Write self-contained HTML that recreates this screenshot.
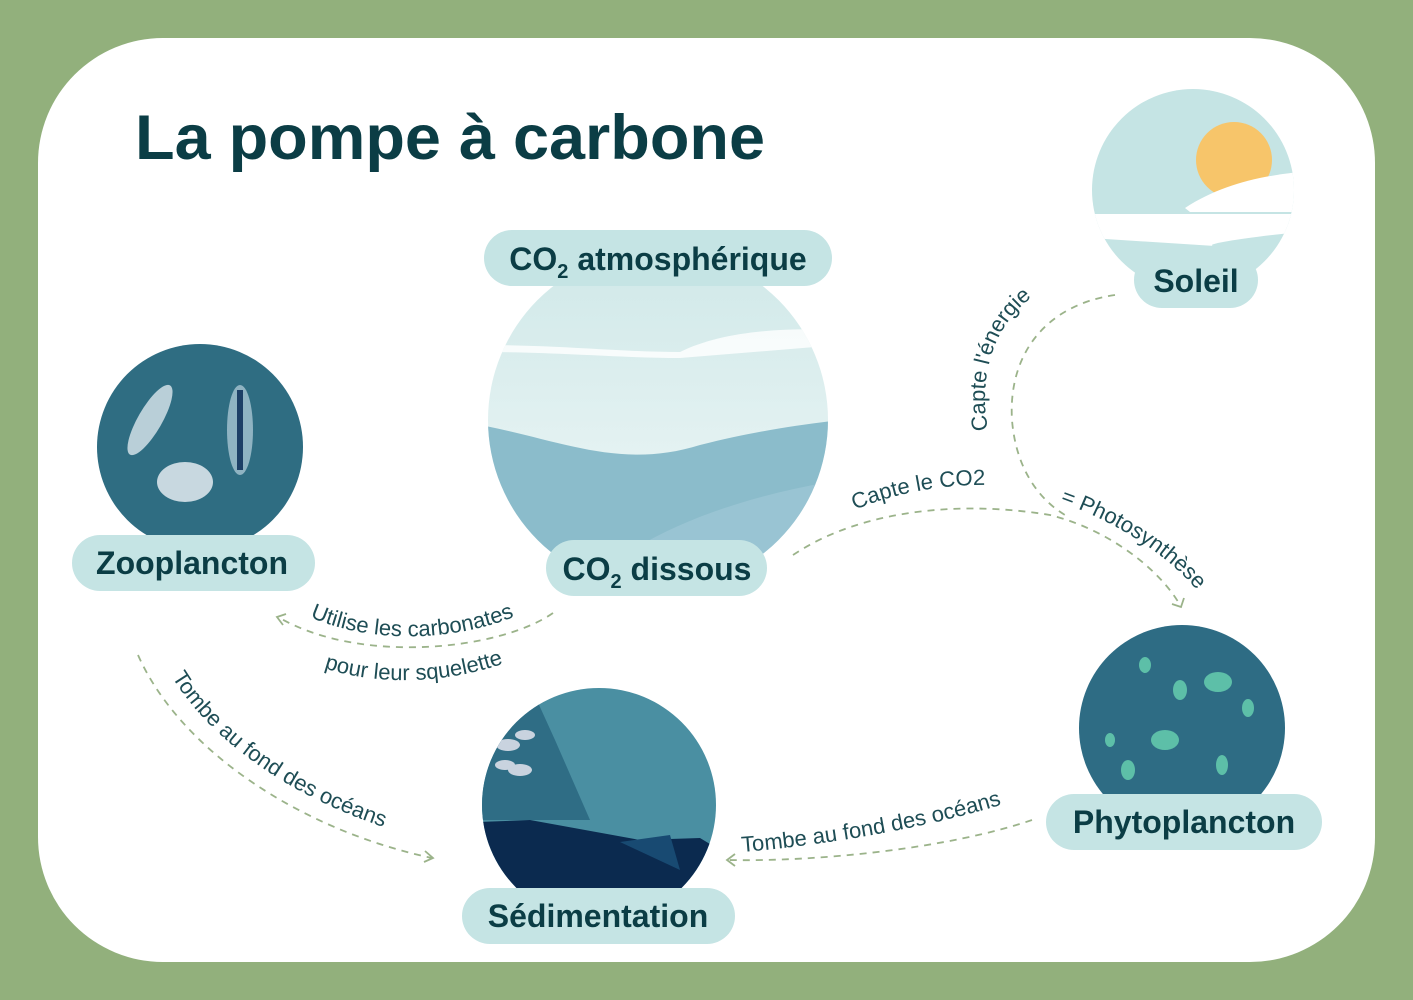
<!DOCTYPE html>
<html><head><meta charset="utf-8"><style>
html,body{margin:0;padding:0;background:#92b07c;}
svg{display:block;font-family:"Liberation Sans",sans-serif;}
.pill{fill:#c5e4e4}
.lbl{font-weight:bold;font-size:32px;fill:#0b3d45;text-anchor:middle}
.dash{fill:none;stroke:#9bb38a;stroke-width:1.8;stroke-dasharray:7 6}
.arr{fill:none;stroke:#9bb38a;stroke-width:1.8}
.t{font-size:22px;fill:#1e4d55}
</style></head><body>
<svg width="1413" height="1000" viewBox="0 0 1413 1000">
<defs>
<clipPath id="cc"><circle cx="658" cy="420" r="170"/></clipPath>
<clipPath id="cs"><circle cx="599" cy="805" r="117"/></clipPath>
<clipPath id="csun"><circle cx="1193" cy="190" r="101"/></clipPath>
<linearGradient id="sky" x1="0" y1="0" x2="0" y2="1"><stop offset="0" stop-color="#cfe8e8"/><stop offset="1" stop-color="#f3f9f9"/></linearGradient>
<path id="p1" d="M988,430 C975,360 1005,300 1065,280"/>
<path id="p2" d="M855,510 C900,490 960,482 1005,486"/>
<path id="p3" d="M1060,502 C1125,525 1185,565 1215,615"/>
<path id="p4" d="M310,617 C380,648 475,640 540,605"/>
<path id="p5" d="M324,668 C390,690 470,680 525,655"/>
<path id="p6" d="M172,677 C220,755 320,812 415,836"/>
<path id="p7" d="M742,852 C830,845 945,825 1025,797"/>
</defs>
<rect x="38" y="38" width="1337" height="924" rx="125" fill="#fff"/>
<text x="135" y="159" font-size="63" font-weight="bold" fill="#0b3d45" textLength="630" lengthAdjust="spacingAndGlyphs">La pompe à carbone</text>

<!-- Soleil -->
<g clip-path="url(#csun)">
<rect x="1090" y="88" width="210" height="210" fill="#c5e4e4"/>
<circle cx="1234" cy="160" r="38" fill="#f7c56a"/>
<path d="M1185,208 C1220,185 1260,176 1300,172 L1300,212 L1190,212Z" fill="#fff"/>
<path d="M1090,214 L1300,214 L1300,232 C1240,238 1200,245 1215,246 L1090,238Z" fill="#fff"/>
</g>
<rect x="1134" y="252" width="124" height="56" rx="28" class="pill"/>
<text x="1196" y="292" class="lbl">Soleil</text>

<!-- Central -->
<g clip-path="url(#cc)">
<rect x="480" y="245" width="360" height="360" fill="url(#sky)"/>
<path d="M480,345 C560,345 620,352 680,352 C720,332 780,327 840,330 L840,345 L680,358 C620,358 560,352 480,352Z" fill="#fff" opacity="0.8"/>
<path d="M480,425 C560,440 620,470 700,445 C760,430 800,425 840,420 L840,610 L480,610Z" fill="#8bbccb"/>
<path d="M560,610 C620,540 720,500 840,480 L840,610Z" fill="#9fc8d6" opacity="0.7"/>
</g>
<rect x="484" y="230" width="348" height="56" rx="28" class="pill"/>
<text x="658" y="270" class="lbl">CO<tspan font-size="20" dy="8">2</tspan><tspan dy="-8"> atmosphérique</tspan></text>
<rect x="546" y="540" width="221" height="56" rx="28" class="pill"/>
<text x="657" y="580" class="lbl">CO<tspan font-size="20" dy="8">2</tspan><tspan dy="-8"> dissous</tspan></text>

<!-- Zooplancton -->
<circle cx="200" cy="447" r="103" fill="#2f6d82"/>
<ellipse cx="150" cy="420" rx="12" ry="40" transform="rotate(30 150 420)" fill="#b9cfd8"/>
<ellipse cx="185" cy="482" rx="28" ry="20" fill="#c8d8e0"/>
<ellipse cx="240" cy="430" rx="13" ry="45" fill="#8fb3c2"/>
<path d="M240,390 L240,470" stroke="#1d3f66" stroke-width="6"/>
<rect x="72" y="535" width="243" height="56" rx="28" class="pill"/>
<text x="192" y="574" class="lbl">Zooplancton</text>

<!-- Phytoplancton -->
<circle cx="1182" cy="728" r="103" fill="#2e6c84"/>
<g fill="#5dbfa8">
<ellipse cx="1218" cy="682" rx="14" ry="10"/><ellipse cx="1180" cy="690" rx="7" ry="10"/>
<ellipse cx="1165" cy="740" rx="14" ry="10"/><ellipse cx="1222" cy="765" rx="6" ry="10"/>
<ellipse cx="1128" cy="770" rx="7" ry="10"/><ellipse cx="1145" cy="665" rx="6" ry="8"/>
<ellipse cx="1248" cy="708" rx="6" ry="9"/><ellipse cx="1110" cy="740" rx="5" ry="7"/>
</g>
<rect x="1046" y="794" width="276" height="56" rx="28" class="pill"/>
<text x="1184" y="833" class="lbl">Phytoplancton</text>

<!-- Sedimentation -->
<g clip-path="url(#cs)">
<rect x="480" y="685" width="240" height="240" fill="#4a8fa2"/>
<path d="M480,685 L530,685 L555,740 L590,820 L480,820Z" fill="#2f6d85"/>
<g fill="#c9d3df"><ellipse cx="508" cy="745" rx="12" ry="6"/><ellipse cx="520" cy="770" rx="12" ry="6"/><ellipse cx="505" cy="765" rx="10" ry="5"/><ellipse cx="525" cy="735" rx="10" ry="5"/></g>
<path d="M480,822 L530,820 L640,840 L700,838 L720,850 L720,925 L480,925Z" fill="#0b2a4f"/>
<path d="M620,842 L670,835 L680,870Z" fill="#184a72"/>
</g>
<rect x="462" y="888" width="273" height="56" rx="28" class="pill"/>
<text x="598" y="927" class="lbl">Sédimentation</text>

<!-- connectors -->
<path class="dash" d="M1115,295 C1045,305 1008,355 1012,420 C1016,470 1040,500 1065,515"/>
<path class="dash" d="M793,555 C860,510 960,500 1050,515 C1110,530 1160,570 1180,605"/>
<path class="arr" d="M1172,604 L1181,607 L1184,598"/>
<path class="dash" d="M553,613 C500,650 360,665 278,617"/>
<path class="arr" d="M286,614 L277,617 L283,625"/>
<path class="dash" d="M138,655 C180,750 300,830 432,858"/>
<path class="arr" d="M425,851 L433,858 L424,862"/>
<path class="dash" d="M1032,820 C950,848 820,862 727,860"/>
<path class="arr" d="M735,854 L727,860 L735,866"/>

<text class="t"><textPath href="#p1">Capte l'énergie</textPath></text>
<text class="t"><textPath href="#p2">Capte le CO2</textPath></text>
<text class="t"><textPath href="#p3">= Photosynthèse</textPath></text>
<text class="t"><textPath href="#p4">Utilise les carbonates</textPath></text>
<text class="t"><textPath href="#p5">pour leur squelette</textPath></text>
<text class="t"><textPath href="#p6">Tombe au fond des océans</textPath></text>
<text class="t"><textPath href="#p7">Tombe au fond des océans</textPath></text>
</svg>
</body></html>
